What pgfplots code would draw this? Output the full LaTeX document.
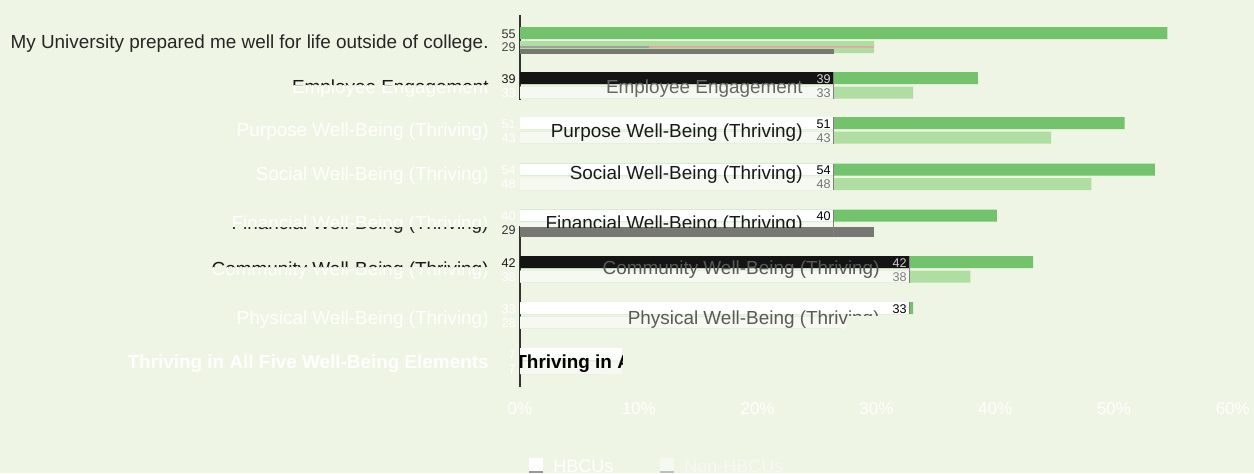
\documentclass[border=0pt]{standalone}
\usepackage{pgfplots}
\pgfplotsset{compat=1.18}
\usepackage{fontspec}
\setmainfont{Liberation Sans}
\definecolor{bg}{HTML}{EEF5E4}
\definecolor{gH}{HTML}{72C36B}
\definecolor{gN}{HTML}{B0DDA1}
\definecolor{wN}{HTML}{F6F9F1}
\definecolor{band}{HTML}{777873}
\definecolor{pinkl}{HTML}{E2A9A3}
\newcommand{\fc}{\fontsize{9.45}{11}\selectfont}
\newcommand{\fcb}{\fontsize{9.45}{11}\selectfont\bfseries}
\newcommand{\fv}{\fontsize{6.3}{7.5}\selectfont}
\newcommand{\lbl}[4]{\node[anchor=base east, inner sep=0pt, text=#3, font=\fc] at (#1,#2) {#4};}
\newcommand{\val}[4]{\node[anchor=base east, inner sep=0pt, text=#3, font=\fv] at (#1,#2) {#4};}
\begin{document}
\begin{tikzpicture}
\clip (0,0) rectangle (627pt,-236.5pt);
\fill[bg] (0,0) rectangle (627pt,-236.5pt);
\begin{axis}[
  at={(260pt,0pt)}, anchor=north west,
  scale only axis, width=356.4pt, height=196pt,
  xmin=0, xmax=60, ymin=0, ymax=392, y dir=reverse,
  axis line style={draw=none}, ytick=\empty,
  xtick={0,10,20,30,40,50,60},
  xticklabels={0\%,10\%,20\%,30\%,40\%,50\%,60\%},
  xticklabel style={text=white, font=\fontsize{8.5}{10}\selectfont, yshift=-2pt},
  major tick length=0pt, tick style={draw=none},
  clip=false,
]
% main axis line
\addplot[draw=black!80, line width=0.7pt] coordinates {(0,15) (0,100)};
\addplot[draw=black!80, line width=0.7pt] coordinates {(0,226) (0,387)};
% green data bars
\addplot[xbar, bar shift=0pt, bar width=6pt, fill=gH, draw=none] coordinates {(54.5,33) (38.55,78) (50.9,123) (53.45,169.5) (40.15,215.5) (43.2,262) (33.1,308) (7,354)};
\addplot[xbar, bar shift=0pt, bar width=6pt, fill=gN, draw=none] coordinates {(29.8,47) (33.1,92.5) (44.7,137.5) (48.1,184) (26,229) (37.9,276.5) (27,322.5) (7,368)};
% overlay bars
\addplot[xbar, bar shift=0pt, bar width=6pt, fill=white, draw=none] coordinates {(26.4,123) (26.4,169.5) (26.4,215.5) (32.8,308) (8.6,354)};
\addplot[xbar, bar shift=0pt, bar width=6pt, fill=black!92, draw=none] coordinates {(26.4,78) (32.8,262)};
\addplot[xbar, bar shift=0pt, bar width=6pt, fill=wN, draw=none] coordinates {(26.4,92.5) (26.4,137.5) (26.4,184) (26.4,229) (32.8,276.5) (27.5,322.5) (8.6,368)};
\addplot[xbar, bar shift=0pt, bar width=5pt, fill=band, draw=none] coordinates {(29.8,232)};
\addplot[xbar, bar shift=0pt, bar width=2.5pt, fill=band, draw=none] coordinates {(26.4,51)};
\addplot[xbar, bar shift=0pt, bar width=1pt, fill=pinkl, draw=none] coordinates {(29.8,47)};
\addplot[xbar, bar shift=0pt, bar width=1pt, fill=band!70, draw=none] coordinates {(10.9,47)};
% secondary axis segments
\addplot[draw=black!50, line width=0.6pt] coordinates {(26.4,72) (26.4,98.5)};
\addplot[draw=black!50, line width=0.6pt] coordinates {(26.4,117) (26.4,143.5)};
\addplot[draw=black!50, line width=0.6pt] coordinates {(26.4,163.5) (26.4,190)};
\addplot[draw=black!50, line width=0.6pt] coordinates {(26.4,209.5) (26.4,236)};
\addplot[draw=black!50, line width=0.6pt] coordinates {(32.8,256) (32.8,283)};
\addplot[draw=black!50, line width=0.6pt] coordinates {(32.8,302) (32.8,314)};
\end{axis}
\begin{scope}[x=0.5pt,y=-0.5pt]
% left category labels
\lbl{489}{48.5}{black!85}{My University prepared me well for life outside of college.}
\begin{scope}\clip (0,0) rectangle (520,85);\lbl{489}{93}{black!90}{Employee Engagement}\end{scope}
\begin{scope}\clip (0,85) rectangle (520,120);\lbl{489}{93}{white}{Employee Engagement}\end{scope}
\lbl{489}{136}{white}{Purpose Well-Being (Thriving)}
\lbl{489}{180}{white}{Social Well-Being (Thriving)}
\begin{scope}\clip (0,200) rectangle (520,227);\lbl{489}{229}{white}{Financial Well-Being (Thriving)}\end{scope}
\begin{scope}\clip (0,227) rectangle (520,245);\lbl{489}{229}{black!85}{Financial Well-Being (Thriving)}\end{scope}
\begin{scope}\clip (0,245) rectangle (520,267);\lbl{489}{275}{black!90}{Community Well-Being (Thriving)}\end{scope}
\begin{scope}\clip (0,267) rectangle (520,290);\lbl{489}{275}{white}{Community Well-Being (Thriving)}\end{scope}
\lbl{489}{324}{white}{Physical Well-Being (Thriving)}
\node[anchor=base east, inner sep=0pt, text=white, font=\fcb] at (489,368) {Thriving in All Five Well-Being Elements};
% left value labels
\val{516}{38}{black!80}{55}
\val{516}{51.5}{black!70}{29}
\val{516}{83}{black!90}{39}
\val{516}{97}{white}{33}
\val{516}{128}{white}{51}
\val{516}{142}{white}{43}
\val{516}{174.5}{white}{54}
\val{516}{188.5}{white}{48}
\val{516}{220.5}{white}{40}
\val{516}{234.5}{black!80}{29}
\val{516}{267}{black!90}{42}
\val{516}{281}{white}{38}
\val{516}{313}{white}{33}
\val{516}{327}{white}{28}
\val{516}{359}{white}{7}
\val{516}{373}{white}{7}
% middle (overlay) category labels
\lbl{803}{93}{black!60}{Employee Engagement}
\lbl{803}{137}{black!90}{Purpose Well-Being (Thriving)}
\lbl{803}{179}{black!90}{Social Well-Being (Thriving)}
\begin{scope}\clip (520,200) rectangle (834,227);\lbl{803}{229}{black!90}{Financial Well-Being (Thriving)}\end{scope}
\lbl{880}{274}{black!65}{Community Well-Being (Thriving)}
\begin{scope}\clip (520,300) -- (910,300) -- (910,315) -- (848,315) -- (848,330) -- (520,330) -- cycle;\lbl{880}{324}{black!65}{Physical Well-Being (Thriving)}\end{scope}
\begin{scope}\clip (520,345) rectangle (622,375);\node[anchor=base west, inner sep=0pt, text=black, font=\fcb] at (515,368) {Thriving in All Five};\end{scope}
% middle value labels
\val{831}{83}{black!15}{39}
\val{831}{97}{black!55}{33}
\val{831}{128}{black}{51}
\val{831}{142}{black!55}{43}
\val{831}{174.5}{black}{54}
\val{831}{188.5}{black!55}{48}
\val{831}{220.5}{black}{40}
\val{907}{267}{black!20}{42}
\val{907}{281}{black!50}{38}
\val{907}{313}{black}{33}
% legend
\fill[white] (529,458) rectangle (543,471);
\draw[black!40, line width=0.8pt] (529,472) -- (543,472);
\node[anchor=base west, inner sep=0pt, text=white, font=\fontsize{9}{10}\selectfont] at (553,472) {HBCUs};
\fill[wN] (660,458) rectangle (674,471);
\draw[black!25, line width=0.8pt] (660,472) -- (674,472);
\node[anchor=base west, inner sep=0pt, text=wN, font=\fontsize{9}{10}\selectfont] at (684,472) {Non-HBCUs};
\end{scope}
\end{tikzpicture}
\end{document}
